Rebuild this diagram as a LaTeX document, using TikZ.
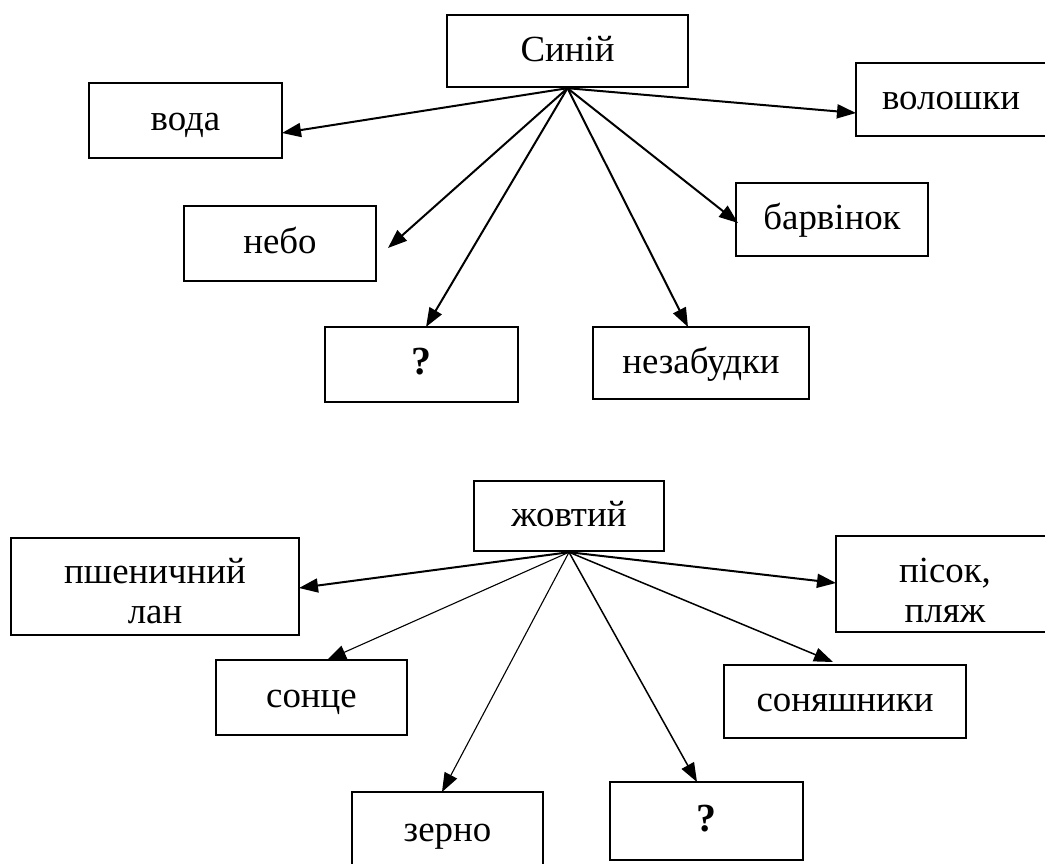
\documentclass[tikz,border=0pt]{standalone}
\usepackage{fontspec}
\setmainfont{Liberation Serif}
\usetikzlibrary{arrows.meta}
\tikzset{
  box/.style={draw=black, line width=2.4bp, rectangle, inner sep=0pt, anchor=center,
              font=\fontsize{37}{40}\selectfont, text height=22bp, text depth=2bp},
  twoline/.style={align=center},
  link/.style={line width=2bp, -{Triangle[length=19bp,width=14bp]}},
  thinlink/.style={line width=1.1bp, -{Triangle[length=19bp,width=14bp]}},
  qmark/.style={font=\fontsize{40}{44}\selectfont\bfseries}
}
\begin{document}
\begin{tikzpicture}[x=1bp,y=-1bp]
\useasboundingbox (0,0) rectangle (1045,864);
\clip (0,0) rectangle (1045,864);
% ---------- upper diagram ----------
\node[box, minimum width=241bp, minimum height=72bp] (sin) at (567.5,51) {Синій};
\node[box, minimum width=193bp, minimum height=75bp] (voda) at (185.5,120.5) {вода};
\node[box, minimum width=190bp, minimum height=73bp] (volo) at (951,99.5) {волошки};
\node[box, minimum width=192bp, minimum height=75bp] (nebo) at (280,243.5) {небо};
\node[box, minimum width=192bp, minimum height=73bp] (barv) at (832,219.5) {барвінок};
\node[box, qmark, minimum width=193bp, minimum height=75bp] (qa) at (421.5,364.5) {?};
\node[box, minimum width=216bp, minimum height=72bp] (nezab) at (701,363) {незабудки};

\coordinate (tvoda) at (282,133);
\coordinate (tvolo) at (856,113);
\coordinate (tnebo) at (388,248);
\coordinate (tbarv) at (738,223);
\coordinate (tqa) at (426,327);
\coordinate (tnezab) at (688,327);

\draw[link] (sin.south) -- (tvoda);
\draw[link] (sin.south) -- (tvolo);
\draw[link] (sin.south) -- (tnebo);
\draw[link] (sin.south) -- (tbarv);
\draw[link] (sin.south) -- (tqa);
\draw[link] (sin.south) -- (tnezab);

% ---------- lower diagram ----------
\node[box, minimum width=190bp, minimum height=70bp] (zhov) at (569,516) {жовтий};
\node[box, twoline, text height=75bp, text depth=2bp, minimum width=288bp, minimum height=97bp] (pshen) at (155,586.5) {пшеничний\\лан};
\node[box, twoline, text height=78bp, text depth=2bp, minimum width=218bp, minimum height=96bp] (pisok) at (945,584) {пісок,\\пляж};
\node[box, minimum width=191bp, minimum height=75bp] (sonce) at (311.5,697.5) {сонце};
\node[box, minimum width=242bp, minimum height=73bp] (sonya) at (845,701.5) {соняшники};
\node[box, minimum width=191bp, minimum height=78bp] (zerno) at (447.5,831) {зерно};
\node[box, qmark, minimum width=193bp, minimum height=78bp] (qb) at (706.5,821) {?};

\coordinate (tpshen) at (299,588);
\coordinate (tpisok) at (836,583);
\coordinate (tsonce) at (327,660);
\coordinate (tsonya) at (833,662);
\coordinate (tzerno) at (442,792);
\coordinate (tqb) at (697,782);

\draw[link] (zhov.south) -- (tpshen);
\draw[link] (zhov.south) -- (tpisok);
\draw[thinlink] (zhov.south) -- (tsonce);
\draw[thinlink, line width=1.5bp] (zhov.south) -- (tsonya);
\draw[thinlink] (zhov.south) -- (tzerno);
\draw[thinlink, line width=1.5bp] (zhov.south) -- (tqb);
\end{tikzpicture}
\end{document}
